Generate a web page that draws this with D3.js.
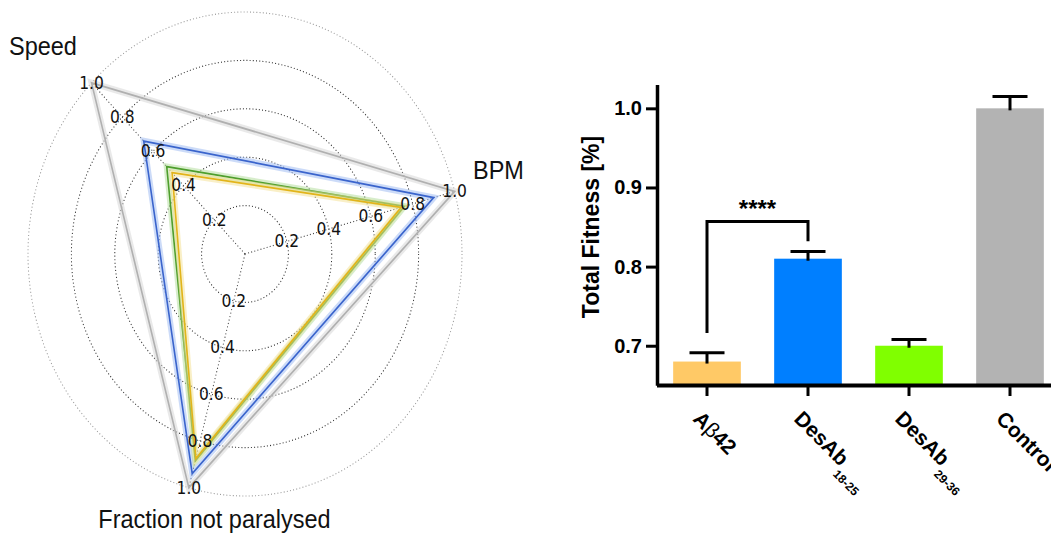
<!DOCTYPE html>
<html>
<head>
<meta charset="utf-8">
<script src="https://cdn.jsdelivr.net/npm/d3@7"></script>
<style>
  html, body { margin: 0; padding: 0; background: #fff; }
  svg { display: block; }
</style>
</head>
<body>
<svg id="chart" width="1051" height="538"></svg>
<script>
// ---------------- Data ----------------
// Radar chart
const radarAxes = ["Speed", "BPM", "Fraction not paralysed"];
const radarTicks = [0.2, 0.4, 0.6, 0.8, 1.0];
const radarSeriesNames = ["Control", "DesAb18-25", "DesAb29-36", "Aβ42"];
const controlValues = [1.0, 1.0, 1.0];
const desAb1825Values = [0.66, 0.90, 0.94];
const desAb2936Values = [0.51, 0.76, 0.885];
const abeta42Values = [0.475, 0.745, 0.875];

// Bar chart
const barCategories = ["Aβ42", "DesAb18-25", "DesAb29-36", "Control"];
const barValues = [0.68, 0.81, 0.70, 1.0];
const barErrors = [0.011, 0.009, 0.008, 0.015];
const yTickValues = [0.7, 0.8, 0.9, 1.0];
const sigPair = [0, 1];
const sigLevels = [0.716, 0.857, 0.832]; // left end, top, right end
const sigLabel = "****";

// ---------------- Styles ----------------
const radarColors = ["#b0b0b0", "#3a64cc", "#4e9e2c", "#e2b41a"];
const radarHalo = ["#d4d4d4", "#9ab8f2", "#b0dc98", "#f4e090"];
const barColors = ["#ffc966", "#007fff", "#80ff00", "#b3b3b3"];

const svg = d3.select("#chart");

// ---------------- Radar ----------------
const R = 217, stretch = 242 / 217;
const cx = 245, cy = 254;
const rScale = d3.scaleLinear().domain([0, 1]).range([0, R]);
const angleDeg = [135, 15, 255];
const angles = angleDeg.map(d => d * Math.PI / 180);
const pt = (v, i) => [rScale(v) * Math.cos(angles[i]), -rScale(v) * Math.sin(angles[i])];

const rg = svg.append("g").attr("transform", `translate(${cx},${cy}) scale(1,${stretch})`);

// grid circles
rg.selectAll("circle.grid").data(radarTicks).join("circle")
  .attr("class", "grid")
  .attr("r", d => rScale(d))
  .attr("fill", "none")
  .attr("stroke", d => d === 1.0 ? "#9a9a9a" : "#333")
  .attr("stroke-width", 1)
  .attr("stroke-dasharray", "1,2.2");

// spokes
rg.selectAll("line.spoke").data(radarAxes).join("line")
  .attr("class", "spoke")
  .attr("x1", 0).attr("y1", 0)
  .attr("x2", (d, i) => pt(1, i)[0])
  .attr("y2", (d, i) => pt(1, i)[1])
  .attr("stroke", "#444")
  .attr("stroke-width", 1)
  .attr("stroke-dasharray", "1,2.2");

const radarData = [controlValues, desAb1825Values, desAb2936Values, abeta42Values];
const lineGen = d3.line().curve(d3.curveLinearClosed);
radarData.forEach((vals, s) => {
  const pts = vals.map((v, i) => pt(v, i));
  rg.append("path").attr("d", lineGen(pts))
    .attr("fill", "none").attr("stroke", radarHalo[s])
    .attr("stroke-width", 6).attr("stroke-opacity", 0.5)
    .attr("stroke-linejoin", "miter");
  rg.append("path").attr("d", lineGen(pts))
    .attr("fill", "none").attr("stroke", radarColors[s])
    .attr("stroke-width", 1.6)
    .attr("stroke-linejoin", "miter");
});

// tick labels along each axis
radarAxes.forEach((a, i) => {
  rg.selectAll(null).data(radarTicks).join("text")
    .attr("x", d => pt(d, i)[0])
    .attr("y", d => pt(d, i)[1])
    .attr("text-anchor", "middle")
    .attr("dominant-baseline", "central")
    .attr("font-family", "DejaVu Sans")
    .attr("font-size", 15.5)
    .attr("fill", "#111")
    .text(d => d.toFixed(1));
});

// axis labels
const axisLabelPos = [[9, 55, "start"], [473, 179, "start"], [214.5, 528, "middle"]];
radarAxes.forEach((a, i) => {
  const [x, y, anchor] = axisLabelPos[i];
  svg.append("text")
    .attr("transform", `translate(${x},${y}) scale(1,${stretch})`)
    .attr("text-anchor", anchor)
    .attr("font-family", "Liberation Sans, Arial, sans-serif")
    .attr("font-size", 23.5)
    .attr("fill", "#111")
    .text(a);
});

// ---------------- Bar chart ----------------
const x = d3.scaleBand().domain(barCategories).range([656.5, 1060.5])
  .paddingInner(0.33).paddingOuter(0.165);
const y = d3.scaleLinear().domain([0.65, 1.03]).range([385.3, 84.6]);
const bg = svg.append("g");

// bars
bg.selectAll("rect.bar").data(barCategories).join("rect")
  .attr("class", "bar")
  .attr("x", d => x(d))
  .attr("width", x.bandwidth())
  .attr("y", (d, i) => y(barValues[i]))
  .attr("height", (d, i) => y(0.65) - y(barValues[i]))
  .attr("fill", (d, i) => barColors[i]);

// error bars
const capW = 35;
bg.selectAll("line.stem").data(barCategories).join("line")
  .attr("x1", d => x(d) + x.bandwidth() / 2)
  .attr("x2", d => x(d) + x.bandwidth() / 2)
  .attr("y1", (d, i) => y(barValues[i]) + 2)
  .attr("y2", (d, i) => y(barValues[i] + barErrors[i]))
  .attr("stroke", "#000").attr("stroke-width", 3);
bg.selectAll("line.cap").data(barCategories).join("line")
  .attr("x1", d => x(d) + x.bandwidth() / 2 - capW / 2)
  .attr("x2", d => x(d) + x.bandwidth() / 2 + capW / 2)
  .attr("y1", (d, i) => y(barValues[i] + barErrors[i]))
  .attr("y2", (d, i) => y(barValues[i] + barErrors[i]))
  .attr("stroke", "#000").attr("stroke-width", 3);

// y axis
const yAxis = d3.axisLeft(y).tickValues(yTickValues).tickFormat(d3.format(".1f"))
  .tickSize(11).tickSizeOuter(0).tickPadding(4);
const yg = bg.append("g").attr("transform", "translate(657,0)").call(yAxis);
yg.select(".domain").attr("stroke-width", 3.5).attr("stroke", "#000");
yg.selectAll(".tick line").attr("stroke-width", 3).attr("stroke", "#000");
yg.selectAll(".tick text")
  .attr("font-family", "Liberation Sans, Arial, sans-serif")
  .attr("font-weight", "bold").attr("font-size", 20).attr("fill", "#000");

// x axis
const xAxis = d3.axisBottom(x).tickSize(11).tickSizeOuter(0).tickFormat("");
const xg = bg.append("g").attr("transform", "translate(0,385)").call(xAxis);
xg.select(".domain").attr("stroke-width", 4).attr("stroke", "#000");
xg.selectAll(".tick line").attr("stroke-width", 3).attr("stroke", "#000");

// rotated x labels
barCategories.forEach((c, i) => {
  const cxb = x(c) + x.bandwidth() / 2;
  const t = bg.append("text")
    .attr("transform", `translate(${cxb - 15},420) rotate(45)`)
    .attr("font-family", "Liberation Sans, Arial, sans-serif")
    .attr("font-weight", "bold").attr("font-size", 21).attr("fill", "#000");
  const m = c.match(/^(DesAb)(\d+-\d+)$/);
  if (m) {
    t.append("tspan").text(m[1]);
    t.append("tspan").attr("dy", 11).attr("font-size", 12).text(m[2]);
  } else if (c.includes("β")) {
    t.append("tspan").text("A");
    t.append("tspan").attr("font-weight", "normal").text("β");
    t.append("tspan").text("42");
  } else {
    t.text(c);
  }
});

// y title
bg.append("text")
  .attr("transform", "translate(599,227) rotate(-90)")
  .attr("text-anchor", "middle")
  .attr("font-family", "Liberation Sans, Arial, sans-serif")
  .attr("font-weight", "bold").attr("font-size", 23).attr("fill", "#000")
  .text("Total Fitness [%]");

// significance bracket
const sx1 = x(barCategories[sigPair[0]]) + x.bandwidth() / 2;
const sx2 = x(barCategories[sigPair[1]]) + x.bandwidth() / 2;
bg.append("path")
  .attr("d", `M${sx1},${y(sigLevels[0])}V${y(sigLevels[1])}H${sx2}V${y(sigLevels[2])}`)
  .attr("fill", "none").attr("stroke", "#000").attr("stroke-width", 3)
  .attr("stroke-linejoin", "miter");
bg.append("text")
  .attr("x", (sx1 + sx2) / 2).attr("y", 217)
  .attr("text-anchor", "middle")
  .attr("font-family", "Liberation Sans, Arial, sans-serif")
  .attr("font-weight", "bold").attr("font-size", 24).attr("fill", "#000")
  .text(sigLabel);
</script>
</body>
</html>
